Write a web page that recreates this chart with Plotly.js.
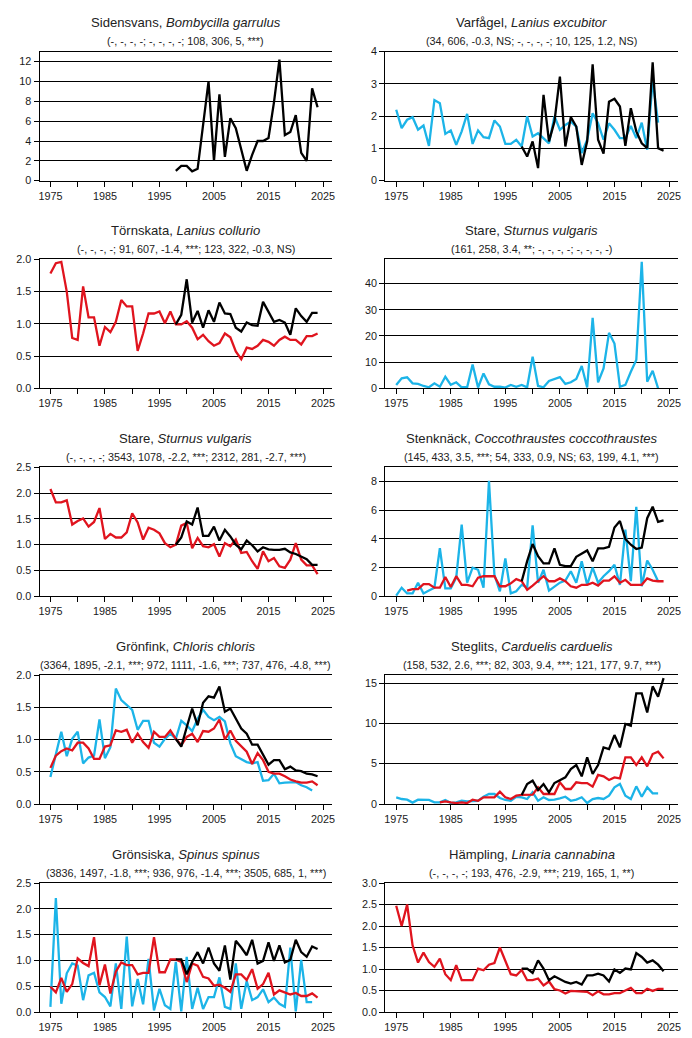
<!DOCTYPE html>
<html>
<head>
<meta charset="utf-8">
<script src="https://cdn.plot.ly/plotly-3.0.1.min.js"></script>
<style>
body { margin: 0; background: #fff; }
#chart { width: 692px; height: 1038px; }
</style>
</head>
<body>
<div id="chart"></div>
<script>

// tick years on the x axes
var tickYears = [1975, 1980, 1985, 1990, 1995, 2000, 2005, 2010, 2015, 2020, 2025];
var tickText  = ['1975', '', '1985', '', '1995', '', '2005', '', '2015', '', '2025'];

// Sidensvans
var sidBlack = [1.0,1.5,1.5,0.95,1.2,5.5,10.0,2.0,8.7,2.4,6.3,5.3,3.2,1.0,2.6,4.0,4.0,4.3,7.9,12.2,4.6,4.9,6.6,2.8,2.0,9.3,7.4];

// Varfagel
var varCyan = [2.2,1.63,1.89,1.97,1.58,1.71,1.08,2.5,2.4,1.45,
  1.56,1.11,1.53,2.07,1.14,1.56,1.35,1.32,1.87,1.68,
  1.14,1.14,1.27,1.06,2.0,1.37,1.47,1.32,1.16,2.0,
  1.58,1.73,1.83,1.68,0.86,1.27,2.09,1.78,1.27,1.78,
  1.58,1.32,1.32,1.7,1.32,1.8,0.96,3.12,1.8];
var varBlack = [1.06,0.75,1.22,0.39,2.66,1.22,1.83,3.23,1.06,1.97,1.68,0.49,1.22,3.61,1.27,0.84,2.45,2.54,2.3,1.08,2.25,1.53,1.16,1.01,3.67,1.01,0.93];

// Tornskata
var torRed = [1.78,1.94,1.96,1.5,0.78,0.75,1.58,1.1,1.1,0.66,
  0.95,0.87,1.03,1.37,1.27,1.27,0.58,0.85,1.16,1.16,
  1.19,1.01,1.19,0.99,0.99,1.04,0.94,0.76,0.83,0.73,
  0.66,0.70,0.85,0.79,0.57,0.45,0.63,0.61,0.66,0.75,
  0.72,0.66,0.75,0.80,0.75,0.75,0.68,0.81,0.81,0.85];
var torBlack = [0.99,1.14,1.69,1.02,1.2,0.94,1.21,1.03,1.33,1.16,1.15,0.94,0.88,1.02,0.98,0.97,1.34,1.19,1.03,1.06,1.02,0.83,1.24,1.12,1.03,1.17,1.17];

// Stare (first panel)
var sta1Cyan = [1.3,3.8,4.2,1.9,1.7,0.9,0.4,1.9,0.6,4.4,
  1.3,2.3,0.4,0.4,9.1,0.3,5.7,1.5,0.6,0.6,
  0.3,1.3,0.6,1.3,0.4,12.1,0.9,0.4,2.8,3.6,
  4.3,1.7,2.3,3.6,8.5,0.3,26.9,2.3,7.6,21.2,
  17.1,0.6,1.3,6.3,10.8,48.3,2.5,6.7,0];

// Stare (second panel)
var sta2Red = [2.08,1.82,1.82,1.86,1.39,1.46,1.51,1.35,1.44,1.71,
  1.11,1.21,1.14,1.14,1.24,1.61,1.43,1.1,1.33,1.29,
  1.22,1.03,0.95,1.0,1.37,1.42,0.93,1.13,0.97,0.95,
  1.01,0.77,1.03,0.97,1.10,0.84,0.86,0.68,0.53,0.87,
  0.68,0.74,0.58,0.55,0.71,1.03,0.71,0.60,0.60,0.43];
var sta2Black = [1.0,1.14,1.45,1.39,1.72,1.17,1.17,1.35,1.08,1.29,1.16,1.0,0.91,1.08,0.99,0.87,0.95,0.91,0.9,0.9,0.92,0.85,0.82,0.77,0.72,0.61,0.61];

// Stenknack
var steCyan = [0.05,0.6,0.2,0.2,0.95,0.2,0.4,0.6,3.35,0.55,
  0.55,1.3,5.0,0.95,2.0,1.85,0.6,8.05,1.5,0.35,
  2.65,0.2,0.35,0.8,0.6,4.95,0.95,1.85,0.4,0.7,
  0.95,1.1,1.75,0.95,2.45,0.8,2.0,0.95,1.4,1.75,
  2.2,0.8,4.65,1.05,6.25,0.7,2.5,1.85,1.05];
var steRed = [0.4,0.5,0.5,0.85,0.85,0.6,0.6,1.35,0.65,1.4,
  0.8,0.8,0.7,1.3,1.4,1.4,1.4,0.7,0.7,0.9,
  1.2,1.05,0.45,0.75,1.05,1.4,1.05,1.05,1.25,1.05,
  0.7,0.6,0.8,0.8,0.95,0.75,1.1,1.1,1.4,0.95,
  1.15,0.8,0.8,0.8,1.25,1.1,1.05,1.05];
var steBlack = [1.05,2.45,3.65,2.8,2.3,2.3,3.35,2.2,2.1,2.1,2.75,2.95,3.2,2.45,3.35,3.35,3.45,4.8,5.25,4.0,3.6,3.3,3.4,5.45,6.25,5.2,5.3];

// Gronfink
var grfCyan = [0.42,0.78,1.12,0.74,1.01,1.12,0.63,0.72,0.75,1.31,
  0.71,0.88,1.79,1.61,1.53,1.46,1.15,1.29,1.29,0.95,
  0.89,1.01,1.09,1.01,1.29,1.22,1.13,1.32,1.46,1.35,
  1.30,1.35,1.28,0.94,0.74,0.69,0.65,0.63,0.65,0.36,
  0.37,0.47,0.32,0.33,0.34,0.34,0.29,0.26,0.21];
var grfRed = [0.56,0.75,0.82,0.86,0.83,0.95,0.95,0.86,0.70,0.70,
  0.89,0.91,1.14,1.12,1.15,0.95,1.09,0.96,0.87,1.12,
  1.04,1.04,1.14,1.01,0.91,1.04,1.09,0.96,1.13,1.12,
  1.17,1.31,1.00,1.14,0.98,0.89,0.81,0.62,0.79,0.68,
  0.50,0.47,0.47,0.43,0.38,0.35,0.33,0.33,0.35,0.29];
var grfBlack = [1.01,0.89,1.19,1.48,1.22,1.57,1.67,1.65,1.82,1.43,1.48,1.32,1.17,1.09,0.92,0.92,0.77,0.61,0.68,0.68,0.54,0.58,0.52,0.51,0.47,0.46,0.43];

// Steglits
var stgCyan = [0.83,0.62,0.54,0.17,0.54,0.5,0.5,0.2,0.2,0.5,
  0.12,0.2,0.4,0.33,0.4,0.4,0.9,1.24,1.24,0.74,
  0.5,0.4,0.9,0.83,0.62,1.45,0.4,0.83,0.5,0.54,
  0.7,0.9,0.4,0.54,0.83,0.12,0.62,0.74,0.62,1.03,
  2.07,2.48,1.03,0.62,2.19,0.9,2.07,1.32,1.32];
var stgRed = [0.2,0.33,0.2,0.12,0.2,0.12,0.54,0.4,0.83,0.83,
  0.83,1.53,0.83,0.62,1.03,1.12,1.12,1.16,2.07,1.24,
  1.24,1.24,2.69,1.86,1.86,2.69,2.6,2.6,2.15,3.6,
  3.43,2.98,3.3,3.18,5.79,5.79,4.83,5.79,4.67,6.2,
  6.49,5.66];
var stgBlack = [1.12,2.48,2.89,1.74,2.48,1.45,2.6,2.98,3.31,4.34,4.83,3.43,5.79,3.72,4.83,7.02,6.82,8.55,7.02,9.92,9.71,13.72,13.72,11.36,14.59,13.31,15.62];

// Gronsiska
var grsCyan = [0.1,2.21,0.16,0.75,0.94,0.9,0.23,0.71,0.76,0.38,
  0.29,0.11,0.94,0.06,1.46,0.11,0.64,0.15,1.03,0.03,
  0.45,0.13,0.06,0.97,0.01,1.07,0.06,0.47,0.06,0.29,
  0.29,0.67,0.1,0.06,0.94,0.06,0.6,0.23,0.29,0.44,
  0.19,0.28,0.16,0.1,1.25,0.01,1.01,0.19,0.19];
var grsRed = [0.49,0.38,0.66,0.39,0.54,1.04,0.95,0.89,1.45,0.52,
  0.92,0.36,0.78,0.96,0.91,0.91,0.73,0.76,0.76,1.45,
  0.77,0.77,1.02,1.02,0.97,0.58,0.94,0.9,0.68,0.65,
  0.51,0.53,0.47,0.39,0.73,0.73,0.62,0.83,0.45,0.54,
  0.76,0.34,0.42,0.38,0.34,0.37,0.31,0.31,0.36,0.28];
var grsBlack = [1.02,1.02,0.73,0.97,1.16,0.94,1.25,0.94,0.8,1.29,0.63,1.38,1.25,1.1,1.4,0.94,0.99,1.35,0.99,1.29,0.96,1.01,1.4,1.16,1.07,1.27,1.22];

// Hampling
var hamRed = [2.47,2.0,2.5,1.55,1.15,1.38,1.16,1.05,1.24,0.88,
  0.74,1.09,0.74,0.74,0.74,1.01,0.97,1.1,1.14,1.5,
  1.2,0.88,0.85,0.98,0.74,0.74,0.78,0.62,0.71,0.53,
  0.5,0.43,0.49,0.48,0.48,0.47,0.39,0.48,0.41,0.41,
  0.44,0.44,0.5,0.56,0.44,0.44,0.54,0.49,0.54,0.54];
var hamBlack = [1.01,1.01,0.91,1.2,1.01,0.74,0.83,0.76,0.7,0.66,0.7,0.64,0.85,0.85,0.89,0.85,0.71,0.99,0.91,1.01,0.99,1.37,1.28,1.15,1.2,1.1,0.95];

var CYAN = '#1cb4e8';
var RED = '#e0141e';
var BLACK = '#000000';

// panel list: [name, latin, subtitle, ymax, dtick, format, series...]
var panels = [
  ['Sidensvans', 'Bombycilla garrulus', '(-, -, -, -; -, -, -, -; 108, 306, 5, ***)', 13, 2, '',
    [[sidBlack, 1998, BLACK]]],
  ['Varfågel', 'Lanius excubitor', '(34, 606, -0.3, NS; -, -, -, -; 10, 125, 1.2, NS)', 4, 1, '',
    [[varCyan, 1975, CYAN], [varBlack, 1998, BLACK]]],
  ['Törnskata', 'Lanius collurio', '(-, -, -, -; 91, 607, -1.4, ***; 123, 322, -0.3, NS)', 2, 0.5, '.1f',
    [[torRed, 1975, RED], [torBlack, 1998, BLACK]]],
  ['Stare', 'Sturnus vulgaris', '(161, 258, 3.4, **; -, -, -, -; -, -, -, -)', 49.3, 10, '',
    [[sta1Cyan, 1975, CYAN]]],
  ['Stare', 'Sturnus vulgaris', '(-, -, -, -; 3543, 1078, -2.2, ***; 2312, 281, -2.7, ***)', 2.5, 0.5, '.1f',
    [[sta2Red, 1975, RED], [sta2Black, 1998, BLACK]]],
  ['Stenknäck', 'Coccothraustes coccothraustes', '(145, 433, 3.5, ***; 54, 333, 0.9, NS; 63, 199, 4.1, ***)', 9, 2, '',
    [[steCyan, 1975, CYAN], [steRed, 1977, RED], [steBlack, 1998, BLACK]]],
  ['Grönfink', 'Chloris chloris', '(3364, 1895, -2.1, ***; 972, 1111, -1.6, ***; 737, 476, -4.8, ***)', 2, 0.5, '.1f',
    [[grfCyan, 1975, CYAN], [grfRed, 1975, RED], [grfBlack, 1998, BLACK]]],
  ['Steglits', 'Carduelis carduelis', '(158, 532, 2.6, ***; 82, 303, 9.4, ***; 121, 177, 9.7, ***)', 16, 5, '',
    [[stgCyan, 1975, CYAN], [stgRed, 1983, RED], [stgBlack, 1998, BLACK]]],
  ['Grönsiska', 'Spinus spinus', '(3836, 1497, -1.8, ***; 936, 976, -1.4, ***; 3505, 685, 1, ***)', 2.5, 0.5, '.1f',
    [[grsCyan, 1975, CYAN], [grsRed, 1975, RED], [grsBlack, 1998, BLACK]]],
  ['Hämpling', 'Linaria cannabina', '(-, -, -, -; 193, 476, -2.9, ***; 219, 165, 1, **)', 3, 0.5, '.1f',
    [[hamRed, 1975, RED], [hamBlack, 1998, BLACK]]]
];

var W = 692, H = 1038;
var colLeft = [39.5, 385.3];
var colRight = [332.3, 678.3];
var rowTop = [51.7, 259.3, 467.3, 675, 883];
var plotH = 129;

function yearsFrom(start, n) {
  var out = [];
  for (let i = 0; i < n; i++) out.push(start + i);
  return out;
}

var data = [];
var layout = {
  width: W, height: H,
  margin: {l: 0, r: 0, t: 0, b: 0},
  paper_bgcolor: '#fff', plot_bgcolor: '#fff',
  showlegend: false,
  font: {family: 'Liberation Sans, Arial, sans-serif', color: '#222', size: 10.5},
  annotations: []
};

function addPanel(p) {
  var pan = panels[p];
  var col = p % 2, row = Math.floor(p / 2);
  var n = p + 1;
  var sfx = (n == 1 ? '' : String(n));

  var pTop = rowTop[row], pBot = rowTop[row] + plotH;

  layout['xaxis' + sfx] = {
    domain: [colLeft[col] / W, colRight[col] / W],
    anchor: 'y' + sfx,
    range: [1973, 2026.7],
    tickvals: tickYears, ticktext: tickText,
    ticks: 'outside', ticklen: 5, tickcolor: '#000', tickwidth: 1,
    showline: true, linecolor: '#000', linewidth: 1, mirror: true,
    showgrid: false, zeroline: false, fixedrange: true,
    tickfont: {size: 10.8, color: '#1a1a1a'}
  };
  layout['yaxis' + sfx] = {
    domain: [1 - pBot / H, 1 - pTop / H],
    anchor: 'x' + sfx,
    range: [0, pan[3]], dtick: pan[4], tick0: 0, tickformat: pan[5],
    ticks: 'outside', ticklen: 5, tickcolor: '#000', tickwidth: 1,
    showline: true, linecolor: '#000', linewidth: 1,
    showgrid: true, gridcolor: '#000', gridwidth: 1,
    zeroline: false, fixedrange: true,
    tickfont: {size: 10.8, color: '#1a1a1a'}
  };

  var series = pan[6];
  for (let s = 0; s < series.length; s++) {
    data.push({
      x: yearsFrom(series[s][1], series[s][0].length),
      y: series[s][0],
      type: 'scatter', mode: 'lines',
      line: {color: series[s][2], width: 2.3},
      xaxis: 'x' + sfx,
      yaxis: 'y' + sfx,
      hoverinfo: 'skip'
    });
  }

  var cx = (colLeft[col] + colRight[col]) / 2 / W;
  layout.annotations.push({
    text: pan[0] + ', <i>' + pan[1] + '</i>',
    x: cx, y: 1 - (pTop - 29) / H, xref: 'paper', yref: 'paper',
    xanchor: 'center', yanchor: 'middle', showarrow: false,
    font: {size: 13.1, color: '#222'}
  });
  layout.annotations.push({
    text: pan[2],
    x: cx, y: 1 - (pTop - 10.5) / H, xref: 'paper', yref: 'paper',
    xanchor: 'center', yanchor: 'middle', showarrow: false,
    font: {size: 10.8, color: '#222'}
  });
}

for (let p = 0; p < panels.length; p++) {
  addPanel(p);
}

Plotly.newPlot('chart', data, layout, {displayModeBar: false, staticPlot: true});

</script>
</body>
</html>
